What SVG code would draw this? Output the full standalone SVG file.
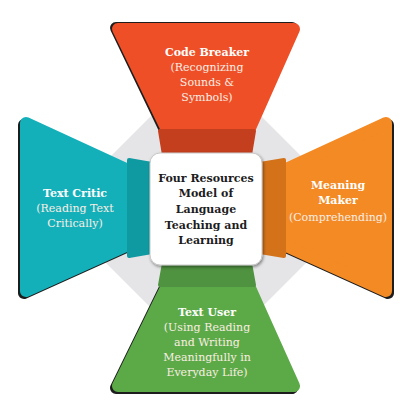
<svg xmlns="http://www.w3.org/2000/svg" width="411" height="401" viewBox="0 0 411 401">
<style>
.t{font-family:"DejaVu Serif","Liberation Serif",serif;font-size:11px;text-anchor:middle}
.h{font-weight:bold;fill:#ffffff}
.s{fill:#fbeee4}
.c{font-weight:bold;fill:#1c1c1c;font-size:11px}
.sh{fill:#1d1d1d;stroke:#1d1d1d;stroke-width:12;stroke-linejoin:round}
.neck{stroke-width:4;stroke-linejoin:round}
</style>
<defs>
<filter id="ds" x="-20%" y="-20%" width="140%" height="140%">
<feDropShadow dx="1" dy="1.5" stdDeviation="1.5" flood-color="#000" flood-opacity="0.45"/>
</filter>
</defs>
<rect width="411" height="401" fill="#ffffff"/>
<polygon id="bg" points="206,61 357,212 206,363 55,212" fill="#e5e5e7"/>
<g id="connectors"/>
<g id="code-breaker">
<polygon class="sh" points="116,28 292,28 248,128 164,128"/>
<polygon points="118,29 294,29 250,128 166,128" fill="#ee4f27" stroke="#ee4f27" stroke-width="12" stroke-linejoin="round"/>
<polygon class="neck" points="160,131 254,131 250,155 164,155" fill="#c43f1e" stroke="#c43f1e"/>
<text class="t h" x="207" y="56">Code Breaker</text>
<text class="t s" x="207" y="71">(Recognizing</text>
<text class="t s" x="207" y="86">Sounds &amp;</text>
<text class="t s" x="207" y="101">Symbols)</text>
</g>
<g id="text-critic">
<polygon class="sh" points="24,125 126,172 126,247 24,293"/>
<polygon points="26,123 128,170 128,245 26,291" fill="#14b0ba" stroke="#14b0ba" stroke-width="12" stroke-linejoin="round"/>
<polygon class="neck" points="129,160 152,164 152,252 129,256" fill="#0f9aa2" stroke="#0f9aa2"/>
<text class="t h" x="75" y="197">Text Critic</text>
<text class="t s" x="75" y="212">(Reading Text</text>
<text class="t s" x="75" y="227">Critically)</text>
</g>
<g id="meaning-maker">
<polygon class="sh" points="388,125 286,172 286,247 388,293"/>
<polygon points="386,123 284,170 284,245 386,291" fill="#f38a24" stroke="#f38a24" stroke-width="12" stroke-linejoin="round"/>
<polygon class="neck" points="284,160 260,164 260,252 284,256" fill="#d47219" stroke="#d47219"/>
<text class="t h" x="338" y="189">Meaning</text>
<text class="t h" x="338" y="204">Maker</text>
<text class="t s" x="338" y="221">(Comprehending)</text>
</g>
<g id="text-user">
<polygon class="sh" points="164,290 248,290 292,388 116,388"/>
<polygon points="166,288 250,288 294,386 118,386" fill="#5caa47" stroke="#5caa47" stroke-width="12" stroke-linejoin="round"/>
<polygon class="neck" points="164,263 250,263 254,285 160,285" fill="#4f9240" stroke="#4f9240"/>
<text class="t h" x="207" y="316">Text User</text>
<text class="t s" x="207" y="331">(Using Reading</text>
<text class="t s" x="207" y="346">and Writing</text>
<text class="t s" x="207" y="361">Meaningfully in</text>
<text class="t s" x="207" y="376">Everyday Life)</text>
</g>
<g id="center">
<rect x="150" y="153" width="112" height="112" rx="10" fill="#ffffff" stroke="#c8c8c8" stroke-width="1" filter="url(#ds)"/>
<text class="t c" x="206" y="182">Four Resources</text>
<text class="t c" x="206" y="197">Model of</text>
<text class="t c" x="206" y="213">Language</text>
<text class="t c" x="206" y="229">Teaching and</text>
<text class="t c" x="206" y="244">Learning</text>
</g>
</svg>
